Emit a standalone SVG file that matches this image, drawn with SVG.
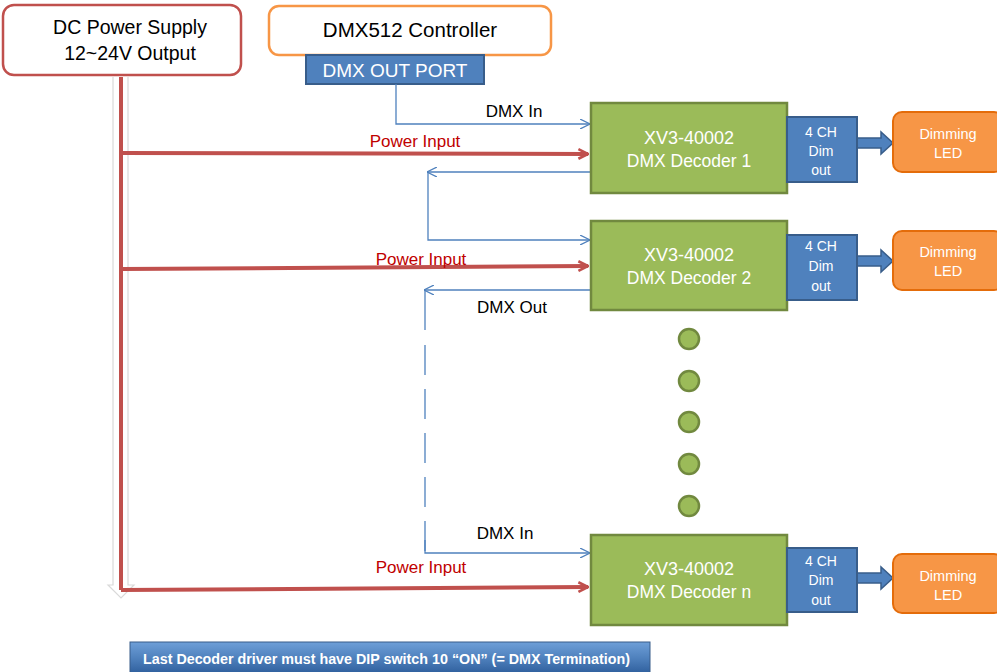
<svg xmlns="http://www.w3.org/2000/svg" width="997" height="672" viewBox="0 0 997 672">
<defs>
<style>
.t{font-family:"Liberation Sans",Arial,sans-serif}
.dec{fill:#9BBB59;stroke:#71893F;stroke-width:2.5}
.ch{fill:#4F81BD;stroke:#385D8A;stroke-width:2}
.led{fill:#F79646;stroke:#E46C0A;stroke-width:2}
.w{fill:#fff}
.pw{stroke:#C0504D;stroke-width:4;fill:none}
.dmx{stroke:#4F81BD;stroke-width:1.3;fill:none}
.dot{fill:#9BBB59;stroke:#71893F;stroke-width:2.5}
.blk{fill:#4F81BD;stroke:#385D8A;stroke-width:1.5}
</style>
<marker id="ba" viewBox="0 0 10 10" refX="10" refY="5" markerWidth="10" markerHeight="10" markerUnits="userSpaceOnUse" orient="auto">
<path d="M0,0 L10,5 L0,10" fill="none" stroke="#4F81BD" stroke-width="1.3"/>
</marker>
<marker id="ra" viewBox="0 0 10 10" refX="9" refY="5" markerWidth="12" markerHeight="14" markerUnits="userSpaceOnUse" orient="auto">
<path d="M1,1 L9,5 L1,9" fill="none" stroke="#C0504D" stroke-width="2.2"/>
</marker>
<linearGradient id="fg" x1="0" y1="0" x2="0" y2="1">
<stop offset="0" stop-color="#6E9FD8"/>
<stop offset="0.5" stop-color="#4F81BD"/>
<stop offset="1" stop-color="#2E5E9C"/>
</linearGradient>
</defs>

<g id="power-supply">
<rect x="3" y="5" width="238" height="70" rx="11" fill="#fff" stroke="#C0504D" stroke-width="2.5"/>
<text class="t" x="130" y="34" font-size="19.5" text-anchor="middle">DC Power Supply</text>
<text class="t" x="130" y="60" font-size="19.5" text-anchor="middle">12~24V Output</text>
</g>

<g id="controller">
<rect x="269" y="6" width="282" height="49" rx="10" fill="#fff" stroke="#F79646" stroke-width="2.5"/>
<text class="t" x="410" y="37" font-size="20.5" text-anchor="middle">DMX512 Controller</text>
</g>

<g id="dmx-out-port">
<rect x="306" y="55" width="178" height="29" class="ch"/>
<text class="t w" x="395" y="77" font-size="19" text-anchor="middle">DMX OUT PORT</text>
</g>

<g id="connectors">
<path d="M113,77 V585 H108 L121,598 L134,585 H128 V77" fill="#fff" stroke="#D9D9D9" stroke-width="1.2"/>
<line x1="121" y1="77" x2="121" y2="590" class="pw"/>
<line x1="121" y1="153" x2="588" y2="154" class="pw" marker-end="url(#ra)"/>
<line x1="121" y1="269" x2="588" y2="266" class="pw" marker-end="url(#ra)"/>
<line x1="121" y1="590" x2="588" y2="587" class="pw" marker-end="url(#ra)"/>
<text class="t" x="415" y="147" font-size="17" fill="#C00000" text-anchor="middle">Power Input</text>
<text class="t" x="421" y="265" font-size="17" fill="#C00000" text-anchor="middle">Power Input</text>
<text class="t" x="421" y="573" font-size="17" fill="#C00000" text-anchor="middle">Power Input</text>
<path d="M396,84 V124 H590" class="dmx" marker-end="url(#ba)"/>
<text class="t" x="514" y="117" font-size="17" text-anchor="middle">DMX In</text>
<path d="M591,172 H427" class="dmx" marker-end="url(#ba)"/>
<path d="M428,172 V240 H590" class="dmx" marker-end="url(#ba)"/>
<path d="M591,290 H424" class="dmx" marker-end="url(#ba)"/>
<path d="M425,290 V330" class="dmx"/>
<path d="M425,345 V553" class="dmx" stroke-dasharray="30,14"/>
<path d="M425,540 V553 H590" class="dmx" marker-end="url(#ba)"/>
<text class="t" x="512" y="313" font-size="17" text-anchor="middle">DMX Out</text>
<text class="t" x="505" y="539" font-size="17" text-anchor="middle">DMX In</text>
<path d="M857,138 H881 V132 L893,143 L881,154 V148 H857 Z" class="blk"/>
<path d="M857,256 H881 V250 L893,261 L881,272 V266 H857 Z" class="blk"/>
<path d="M857,573 H881 V567 L893,578 L881,589 V583 H857 Z" class="blk"/>
</g>

<g id="decoder-1">
<rect x="591" y="103" width="196" height="90" class="dec"/>
<text class="t w" x="689" y="144" font-size="18" text-anchor="middle">XV3-40002</text>
<text class="t w" x="689" y="167" font-size="17.5" text-anchor="middle">DMX Decoder  1</text>
</g>
<g id="out-1">
<rect x="787" y="117" width="70" height="65" class="ch"/>
<text class="t w" x="821" y="137" font-size="14" text-anchor="middle">4 CH</text>
<text class="t w" x="821" y="156" font-size="14" text-anchor="middle">Dim</text>
<text class="t w" x="821" y="175" font-size="14" text-anchor="middle">out</text>
</g>
<g id="led-1">
<rect x="893" y="112" width="110" height="60" rx="9" class="led"/>
<text class="t w" x="948" y="139" font-size="14.5" text-anchor="middle">Dimming</text>
<text class="t w" x="948" y="158" font-size="14.5" text-anchor="middle">LED</text>
</g>

<g id="decoder-2">
<rect x="591" y="221" width="196" height="89" class="dec"/>
<text class="t w" x="689" y="261" font-size="18" text-anchor="middle">XV3-40002</text>
<text class="t w" x="689" y="284" font-size="17.5" text-anchor="middle">DMX Decoder  2</text>
</g>
<g id="out-2">
<rect x="787" y="235" width="70" height="65" class="ch"/>
<text class="t w" x="821" y="251" font-size="14" text-anchor="middle">4 CH</text>
<text class="t w" x="821" y="271" font-size="14" text-anchor="middle">Dim</text>
<text class="t w" x="821" y="291" font-size="14" text-anchor="middle">out</text>
</g>
<g id="led-2">
<rect x="893" y="231" width="110" height="59" rx="9" class="led"/>
<text class="t w" x="948" y="257" font-size="14.5" text-anchor="middle">Dimming</text>
<text class="t w" x="948" y="276" font-size="14.5" text-anchor="middle">LED</text>
</g>

<g id="ellipsis">
<circle cx="689" cy="339" r="10" class="dot"/>
<circle cx="689" cy="381" r="10" class="dot"/>
<circle cx="689" cy="422" r="10" class="dot"/>
<circle cx="689" cy="464" r="10" class="dot"/>
<circle cx="689" cy="506" r="10" class="dot"/>
</g>

<g id="decoder-n">
<rect x="591" y="535" width="196" height="90" class="dec"/>
<text class="t w" x="689" y="575" font-size="18" text-anchor="middle">XV3-40002</text>
<text class="t w" x="689" y="598" font-size="17.5" text-anchor="middle">DMX Decoder  n</text>
</g>
<g id="out-n">
<rect x="787" y="548" width="70" height="64" class="ch"/>
<text class="t w" x="821" y="566" font-size="14" text-anchor="middle">4 CH</text>
<text class="t w" x="821" y="585" font-size="14" text-anchor="middle">Dim</text>
<text class="t w" x="821" y="605" font-size="14" text-anchor="middle">out</text>
</g>
<g id="led-n">
<rect x="893" y="554" width="110" height="59" rx="9" class="led"/>
<text class="t w" x="948" y="581" font-size="14.5" text-anchor="middle">Dimming</text>
<text class="t w" x="948" y="600" font-size="14.5" text-anchor="middle">LED</text>
</g>

<g id="note">
<rect x="130" y="642" width="520" height="32" fill="url(#fg)" stroke="#385D8A" stroke-width="1"/>
<text class="t w" x="143" y="664" font-size="14" font-weight="bold" textLength="487" lengthAdjust="spacingAndGlyphs">Last Decoder driver must have DIP switch 10 “ON” (= DMX Termination)</text>
</g>
</svg>
